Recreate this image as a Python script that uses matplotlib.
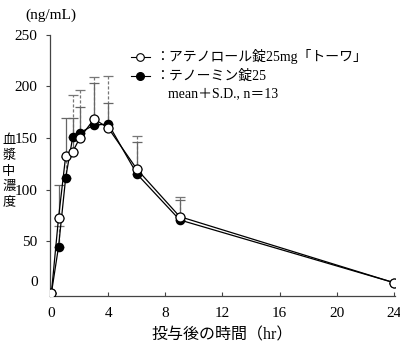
import numpy as np
import matplotlib
matplotlib.use("Agg")
import matplotlib.pyplot as plt

plt.rcParams['font.family'] = ['Liberation Serif', 'Noto Sans CJK JP']

# データ
hours = [0, 0.5, 1, 1.5, 2, 3, 4, 6, 9, 24]
towa_mean = [0, 72.8, 132.5, 136.7, 150.2, 168.3, 159.3, 119.6, 73.8, 10]
towa_sd = [0, 32, 36.5, 33, 30, 35, 24, 26, 16, 0]
tenormin_mean = [0, 44.8, 111.5, 151.2, 155, 162.5, 163.2, 115, 70.6, 10]
tenormin_sd = [0, 20, 20, 40, 41, 46.5, 47, 37, 22, 0]

xticks = [0, 4, 8, 12, 16, 20, 24]
yticks = [50, 100, 150, 200, 250]

fig = plt.figure(figsize=(4.0, 3.45), dpi=100)
ax = fig.add_axes([0.125, 0.142, 0.8625, 0.758])

# テノーミン錠25（黒丸）
eb2 = ax.errorbar(hours, tenormin_mean,
                  yerr=[np.zeros(len(hours)), tenormin_sd],
                  fmt='none', ecolor='#777777', elinewidth=0.9, capsize=3.5, capthick=0.9)
eb2[2][0].set_linestyle((0, (2.5, 1.5)))
ax.plot(hours, tenormin_mean, color='black', lw=0.9, marker='o', ms=6,
        mfc='black', mec='black', mew=0.9, zorder=3)

# アテノロール錠25mg「トーワ」（白丸）
ax.errorbar(hours, towa_mean, yerr=[np.zeros(len(hours)), towa_sd],
            fmt='none', ecolor='#666666', elinewidth=0.9, capsize=3.5, capthick=0.9)
ax.plot(hours, towa_mean, color='black', lw=0.9, marker='o', ms=6.5,
        mfc='white', mec='black', mew=0.9, zorder=4)

ax.set_xlim(-0.1, 24.1)
ax.set_ylim(-3, 250)
ax.set_xticks(xticks)
ax.set_yticks(yticks)
ax.tick_params(axis='x', direction='in', length=3, pad=8, labelsize=11, color='#444444')
ax.tick_params(axis='y', direction='out', length=3, pad=6, labelsize=11, color='#444444')
for s in ['top', 'right']:
    ax.spines[s].set_visible(False)
for s in ['left', 'bottom']:
    ax.spines[s].set_color('#444444')
    ax.spines[s].set_linewidth(0.9)

# 原点の「0」
ax.text(-0.035, 10, '0', transform=ax.get_yaxis_transform(), ha='right', va='center',
        fontsize=11)

ax.set_xlabel('投与後の時間（hr）', fontsize=11.5, labelpad=5)

# 縦書きの軸ラベル（1文字ずつ）
for i, ch in enumerate('血漿中濃度'):
    fig.text(0.022, 1 - (140 + i * 15.5) / 345, ch, ha='center', va='center',
             fontsize=9.5, family='Noto Sans CJK JP')

fig.text(0.063, 0.955, '(ng/mL)', ha='left', va='center', fontsize=11)

# 凡例
ax.plot([0.234, 0.290], [0.915, 0.915], transform=ax.transAxes, color='black', lw=0.8,
        clip_on=False)
ax.plot([0.262], [0.915], transform=ax.transAxes, marker='o', ms=5.5, mfc='white',
        mec='black', mew=0.8, clip_on=False)
ax.plot([0.234, 0.290], [0.842, 0.842], transform=ax.transAxes, color='black', lw=0.8,
        clip_on=False)
ax.plot([0.262], [0.842], transform=ax.transAxes, marker='o', ms=5.5, mfc='black',
        mec='black', clip_on=False)
ax.text(0.305, 0.915, '：アテノロール錠25mg「トーワ」', transform=ax.transAxes,
        ha='left', va='center', fontsize=10)
ax.text(0.305, 0.842, '：テノーミン錠25', transform=ax.transAxes,
        ha='left', va='center', fontsize=10)
ax.text(0.342, 0.772, 'mean＋S.D., n＝13', transform=ax.transAxes,
        ha='left', va='center', fontsize=10)

fig.savefig('out.png', dpi=100)
